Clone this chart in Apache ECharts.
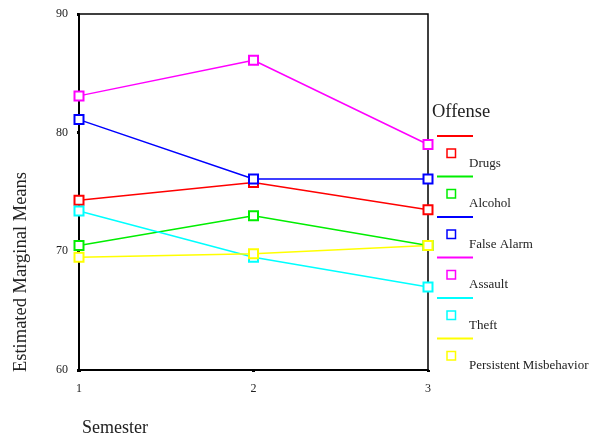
<!DOCTYPE html>
<html>
<head>
<meta charset="utf-8">
<script src="https://cdn.jsdelivr.net/npm/echarts@6/dist/echarts.min.js"></script>
<style>html,body{margin:0;padding:0;background:#fff;}#c{width:592px;height:436px;}</style>
</head>
<body>
<div id="c"></div>
<script>
const semesters = ['1', '2', '3'];
const offenseNames = ['Drugs', 'Alcohol', 'False Alarm', 'Assault', 'Theft', 'Persistent Misbehavior'];
const drugs = [74.3, 75.8, 73.5];
const alcohol = [70.5, 73.0, 70.5];
const falseAlarm = [81.1, 76.1, 76.1];
const assault = [83.1, 86.1, 79.0];
const theft = [73.4, 69.5, 67.0];
const persistent = [69.5, 69.8, 70.5];
const colors = ['#ff0000', '#00ee00', '#0000ff', '#ff00ff', '#00ffff', '#ffff00'];
const seriesValues = [drugs, alcohol, falseAlarm, assault, theft, persistent];

const FONT = '"Liberation Serif", "Times New Roman", serif';

// Custom legend (line swatch, square marker below, label below-right)
const LEG_X = 437, LEG_Y = 136, LEG_STEP = 40.5;
const legendGraphics = [];
offenseNames.forEach((n, i) => {
  const y = LEG_Y + i * LEG_STEP;
  legendGraphics.push({
    type: 'line', silent: true,
    shape: {x1: LEG_X, y1: y, x2: LEG_X + 36, y2: y},
    style: {stroke: colors[i], lineWidth: 2}
  });
  legendGraphics.push({
    type: 'rect', silent: true,
    shape: {x: LEG_X + 10, y: y + 13, width: 8.5, height: 8.5},
    style: {fill: '#fff', stroke: colors[i], lineWidth: 1.5}
  });
  legendGraphics.push({
    type: 'text', silent: true,
    x: LEG_X + 32, y: y + 27.5,
    style: {text: n, fill: '#222', font: '13px ' + FONT, verticalAlign: 'middle', align: 'left'}
  });
});

const chart = echarts.init(document.getElementById('c'), null, {renderer: 'canvas'});
chart.setOption({
  animation: false,
  backgroundColor: '#fff',
  color: colors,
  grid: {left: 79, right: 164, top: 14, bottom: 66, containLabel: false, outerBoundsMode: 'none',
         show: true, borderColor: '#000', borderWidth: 1.5, backgroundColor: 'transparent'},
  title: {
    text: 'Offense',
    left: 432,
    top: 103,
    padding: 0,
    textStyle: {fontFamily: FONT, fontSize: 18.5, fontWeight: 'normal', color: '#222'}
  },
  graphic: legendGraphics,
  xAxis: {
    type: 'category',
    data: semesters,
    boundaryGap: false,
    name: 'Semester',
    nameLocation: 'middle',
    nameGap: 49,
    nameTextStyle: {fontFamily: FONT, fontSize: 18, color: '#222', padding: [0, 277, 0, 0]},
    axisLine: {lineStyle: {color: '#000', width: 2}},
    axisTick: {show: true, length: 2, lineStyle: {color: '#000', width: 3}},
    axisLabel: {fontFamily: FONT, fontSize: 12, color: '#222', margin: 13},
    splitLine: {show: false}
  },
  yAxis: {
    type: 'value',
    min: 60, max: 90, interval: 10,
    name: 'Estimated Marginal Means',
    nameLocation: 'middle',
    nameRotate: 90,
    nameGap: 48,
    nameTextStyle: {fontFamily: FONT, fontSize: 18.5, color: '#222', padding: [0, 160, 0, 0]},
    axisLine: {show: true, lineStyle: {color: '#000', width: 2}},
    axisTick: {show: true, length: 2, lineStyle: {color: '#000', width: 3}},
    axisLabel: {fontFamily: FONT, fontSize: 12, color: '#222', margin: 11},
    splitLine: {show: false}
  },
  series: offenseNames.map((n, i) => ({
    name: n,
    type: 'line',
    data: seriesValues[i],
    symbol: 'emptyRect',
    symbolSize: 9,
    lineStyle: {width: 1.5, color: colors[i]},
    itemStyle: {color: colors[i], borderWidth: 1.5}
  }))
});
</script>
</body>
</html>
